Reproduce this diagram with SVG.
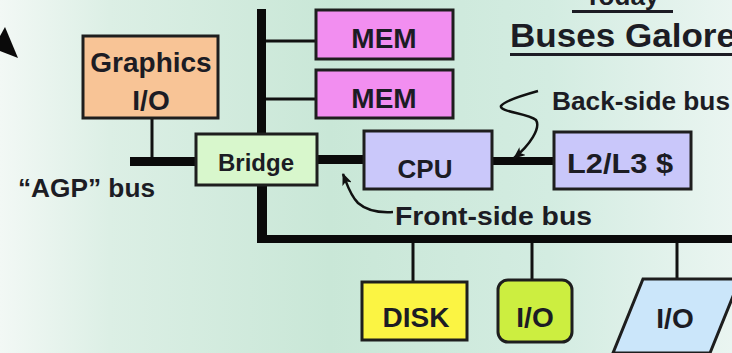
<svg xmlns="http://www.w3.org/2000/svg" width="732" height="353" viewBox="0 0 732 353">
  <defs>
    <linearGradient id="bg" x1="0" y1="0" x2="1" y2="0">
      <stop offset="0" stop-color="#f2f8f5"/>
      <stop offset="0.15" stop-color="#dcefe5"/>
      <stop offset="0.45" stop-color="#c9e7d7"/>
      <stop offset="0.75" stop-color="#d3ece1"/>
      <stop offset="1" stop-color="#eaf5f1"/>
    </linearGradient>
    <marker id="head" viewBox="0 0 12 10" refX="11" refY="5" markerWidth="12" markerHeight="10" markerUnits="userSpaceOnUse" orient="auto">
      <path d="M0,0 L12,5 L0,10 L3,5 Z" fill="#111"/>
    </marker>
    <style>
      .box { stroke: #1e1e1e; stroke-width: 3; }
      .lbl { font-family: "Liberation Sans", Arial, sans-serif; font-weight: bold; fill: #1c1c24; text-anchor: middle; }
      .note { font-family: "Liberation Sans", Arial, sans-serif; font-weight: bold; fill: #1c1c24; }
      .bus { fill: #0a0a0a; }
      .tap { stroke: #111; stroke-width: 3; fill: none; }
      .curve { stroke: #111; stroke-width: 2.5; fill: none; }
    </style>
  </defs>

  <rect width="732" height="353" fill="url(#bg)"/>

  <!-- pointer head at the left edge -->
  <polygon points="5,27 18,58 0,51 0,36" fill="#0a0a0a"/>

  <!-- title -->
  <g id="title">
    <text class="note" x="622" y="5" font-size="26" text-anchor="middle">Today</text>
    <rect x="572" y="10" width="101" height="3" fill="#1c1c24"/>
    <text class="note" x="510" y="47" font-size="34" textLength="226" lengthAdjust="spacingAndGlyphs">Buses Galore</text>
    <rect x="510" y="53" width="222" height="3" fill="#1c1c24"/>
  </g>

  <!-- buses and taps -->
  <g id="connectors">
    <rect class="bus" x="257" y="9" width="9" height="125"/>
    <rect class="bus" x="257" y="185" width="10" height="58"/>
    <rect class="bus" x="257" y="235" width="475" height="8"/>
    <rect class="bus" x="130" y="157" width="67" height="9"/>
    <rect class="bus" x="316" y="155" width="50" height="9"/>
    <rect class="bus" x="492" y="157" width="62" height="8"/>
    <line class="tap" x1="266" y1="41" x2="316" y2="41"/>
    <line class="tap" x1="266" y1="99" x2="316" y2="99"/>
    <line class="tap" x1="152" y1="118" x2="152" y2="157"/>
    <line class="tap" x1="413" y1="243" x2="413" y2="282"/>
    <line class="tap" x1="532" y1="243" x2="532" y2="280"/>
    <line class="tap" x1="677" y1="243" x2="677" y2="279"/>
    <path class="curve" d="M393,212 C378,213 366,210 358,203 C350,195 347,184 343,174" marker-end="url(#head)"/>
    <path class="curve" d="M538,91 C520,96 504,101 501,106 C499,112 528,113 536,120 C541,128 530,145 514,158" marker-end="url(#head)"/>
  </g>

  <g id="graphics">
    <rect class="box" x="83" y="36" width="135" height="82" fill="#f8c496"/>
    <text class="lbl" x="151" y="72" font-size="28">Graphics</text>
    <text class="lbl" x="151" y="110" font-size="28">I/O</text>
  </g>

  <g id="mem1">
    <rect class="box" x="316" y="10" width="137" height="49" fill="#f28ef0"/>
    <text class="lbl" x="384" y="48" font-size="28">MEM</text>
  </g>

  <g id="mem2">
    <rect class="box" x="316" y="70" width="137" height="48" fill="#f28ef0"/>
    <text class="lbl" x="384" y="108" font-size="28">MEM</text>
  </g>

  <g id="bridge">
    <rect class="box" x="196" y="134" width="121" height="51" fill="#d8f7cc"/>
    <text class="lbl" x="256" y="171" font-size="24">Bridge</text>
  </g>

  <g id="cpu">
    <rect class="box" x="364" y="131" width="128" height="58" fill="#cac8fa"/>
    <text class="lbl" x="425" y="178" font-size="26">CPU</text>
  </g>

  <g id="cache">
    <rect class="box" x="554" y="132" width="137" height="57" fill="#c9c7fa"/>
    <text class="lbl" x="620" y="173" font-size="28" textLength="106" lengthAdjust="spacingAndGlyphs">L2/L3 $</text>
  </g>

  <g id="disk">
    <rect class="box" x="362" y="282" width="105" height="58" fill="#fbf443"/>
    <text class="lbl" x="416" y="327" font-size="28">DISK</text>
  </g>

  <g id="io-green">
    <rect class="box" x="498" y="280" width="74" height="62" rx="10" fill="#ccee40"/>
    <text class="lbl" x="535" y="327" font-size="28">I/O</text>
  </g>

  <g id="io-blue">
    <polygon class="box" points="643,279 740,279 710,353 613,353" fill="#cbe6fa"/>
    <text class="lbl" x="675" y="328" font-size="28">I/O</text>
  </g>

  <!-- bus labels -->
  <g id="labels">
    <text class="note" x="18" y="197" font-size="26" textLength="137" lengthAdjust="spacingAndGlyphs">“AGP” bus</text>
    <text class="note" x="395" y="225" font-size="26" textLength="197" lengthAdjust="spacingAndGlyphs">Front-side bus</text>
    <text class="note" x="552" y="110" font-size="25" textLength="178" lengthAdjust="spacingAndGlyphs">Back-side bus</text>
  </g>
</svg>
